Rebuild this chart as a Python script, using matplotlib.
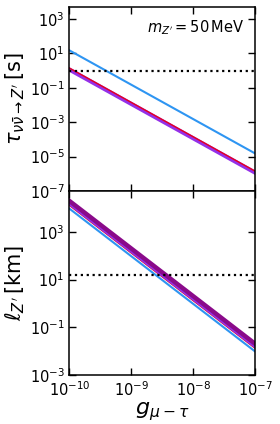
import matplotlib
matplotlib.use("Agg")
import matplotlib.pyplot as plt
import numpy as np

# coupling values (x axis)
g = [1e-10, 1e-9, 1e-8, 1e-7]

# top panel: lifetime tau [s]
tau_blue = [15.0, 0.15, 1.5e-3, 1.5e-5]
tau_red = [1.4, 1.4e-2, 1.4e-4, 1.4e-6]
tau_purple = [1.15, 1.15e-2, 1.15e-4, 1.15e-6]
tau_ref = 1.0

# bottom panel: decay length [km]
ell_blue = [0.95e4, 0.95e2, 0.95, 0.95e-2]
ell_red = [1.3e4, 1.3e2, 1.3, 1.3e-2]
ell_purple = [1.5e4, 1.5e2, 1.5, 1.5e-2]
ell_dark = [2.0e4, 2.0e2, 2.0, 2.0e-2]
ell_ref = 15.0

plt.rcParams["mathtext.fontset"] = "dejavusans"

fig = plt.figure(figsize=(2.8, 4.24), dpi=100)
ax1 = fig.add_axes([0.248, 0.5495, 0.664, 0.434])
ax2 = fig.add_axes([0.248, 0.1156, 0.664, 0.434], sharex=ax1)

blue, red, purple, dark = "#2e95f2", "#e8001c", "#9430e8", "#8a0a8a"

ax1.plot(g, tau_blue, color=blue, lw=1.5)
ax1.plot(g, tau_purple, color=purple, lw=3)
ax1.plot(g, tau_red, color=red, lw=1.0)
ax1.axhline(tau_ref, color="black", ls=":", lw=1.6)

ax2.plot(g, ell_blue, color=blue, lw=1.5)
ax2.plot(g, ell_red, color=red, lw=1.0)
ax2.plot(g, ell_purple, color=purple, lw=2)
ax2.plot(g, ell_dark, color=dark, lw=3.2)
ax2.axhline(ell_ref, color="black", ls=":", lw=1.6)

for ax in (ax1, ax2):
    ax.set_xscale("log")
    ax.set_yscale("log")
    ax.set_xlim(1e-10, 1e-7)
    ax.tick_params(which="both", direction="in", top=True, right=True, labelsize=10.5)
    ax.tick_params(which="major", length=5, width=1)
    ax.minorticks_off()
    for s in ax.spines.values():
        s.set_linewidth(1.1)

ax1.set_ylim(10**-7, 10**3.7)
ax1.set_yticks([1e-7, 1e-5, 1e-3, 1e-1, 1e1, 1e3])
ax1.tick_params(labelbottom=False)
ax1.set_ylabel(r"$\tau_{\nu\bar{\nu}\to Z^{\prime}}\,[\mathrm{s}]$", fontsize=15, labelpad=2)
ax1.text(0.94, 0.89, r"$m_{Z^{\prime}} = 50\,\mathrm{MeV}$", transform=ax1.transAxes,
         ha="right", va="center", fontsize=10.5)

ax2.set_ylim(1e-3, 10**4.72)
ax2.set_yticks([1e-3, 1e-1, 1e1, 1e3])
ax2.set_xticks([1e-10, 1e-9, 1e-8, 1e-7])
ax2.set_ylabel(r"$\ell_{Z^{\prime}}\,[\mathrm{km}]$", fontsize=15, labelpad=2)
ax2.set_xlabel(r"$g_{\mu-\tau}$", fontsize=16, labelpad=1)

fig.savefig("out.png", dpi=100)
